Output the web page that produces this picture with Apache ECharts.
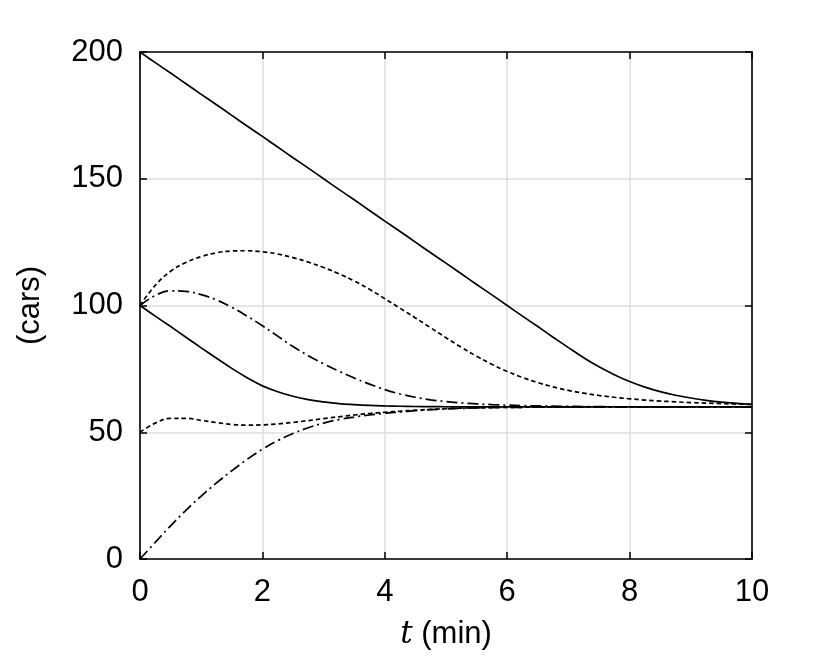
<!DOCTYPE html>
<html>
<head>
<meta charset="utf-8">
<title>cars vs t</title>
<script src="https://cdn.jsdelivr.net/npm/echarts@6/dist/echarts.min.js"></script>
<style>
  html, body { margin: 0; padding: 0; background: #fff; }
  #chart { width: 830px; height: 664px; }
</style>
</head>
<body>
<div id="chart"></div>
<script>
// time points (min), every 0.25
var tVals = [0, 0.25, 0.5, 0.75, 1, 1.25, 1.5, 1.75, 2, 2.25, 2.5, 2.75, 3, 3.25, 3.5, 3.75, 4, 4.25, 4.5, 4.75,
             5, 5.25, 5.5, 5.75, 6, 6.25, 6.5, 6.75, 7, 7.25, 7.5, 7.75, 8, 8.25, 8.5, 8.75, 9, 9.25, 9.5, 9.75, 10];

// number of cars
var solidTop   = [200, 195.8, 191.7, 187.5, 183.3, 179.2, 175, 170.8, 166.7, 162.5, 158.3, 154.2, 150, 145.8, 141.7, 137.5, 133.3, 129.2, 125, 120.8,
                  116.7, 112.5, 108.3, 104.2, 100, 95.8, 91.7, 87.5, 83.4, 79.4, 75.8, 72.7, 70, 67.8, 66, 64.6, 63.5, 62.6, 61.9, 61.4, 61];
var solidLow   = [100, 95.8, 91.7, 87.5, 83.3, 79.2, 75.2, 71.5, 68.3, 66, 64.2, 62.9, 62, 61.3, 60.9, 60.6, 60.4, 60.25, 60.15, 60.1,
                  60.05, 60, 60, 60, 60, 60, 60, 60, 60, 60, 60, 60, 60, 60, 60, 60, 60, 60, 60, 60, 60];
var dottedTop  = [100, 108, 113.5, 117, 119.3, 120.8, 121.5, 121.6, 121.2, 120.3, 118.9, 117.1, 115, 112.5, 109.7, 106.4, 102.7, 98.9, 95.1, 91.2,
                  87.3, 83.5, 80, 76.8, 74, 71.6, 69.6, 67.9, 66.5, 65.4, 64.5, 63.8, 63.2, 62.7, 62.3, 62, 61.7, 61.5, 61.3, 61.1, 61];
var dashDotTop = [100, 104, 105.8, 105.6, 104.3, 102.2, 99.3, 95.8, 92, 87.9, 83.8, 80.2, 77, 74.1, 71.4, 69, 66.8, 65.1, 63.8, 62.8,
                  62.1, 61.6, 61.2, 60.9, 60.7, 60.5, 60.4, 60.3, 60.2, 60.15, 60.1, 60.05, 60.05, 60, 60, 60, 60, 60, 60, 60, 60];
var dottedLow  = [50, 53.6, 55.5, 55.5, 54.7, 53.8, 53.1, 52.8, 52.9, 53.3, 53.9, 54.6, 55.4, 56.1, 56.8, 57.4, 57.9, 58.3, 58.7, 59,
                  59.3, 59.5, 59.6, 59.7, 59.8, 59.85, 59.9, 59.95, 60, 60, 60, 60, 60, 60, 60, 60, 60, 60, 60, 60, 60];
var dashDotLow = [0, 6.6, 13.1, 19.2, 24.8, 30, 34.8, 39.3, 43.3, 46.7, 49.5, 51.8, 53.6, 55, 56, 56.8, 57.5, 58, 58.5, 58.9,
                  59.2, 59.4, 59.6, 59.7, 59.8, 59.85, 59.9, 59.95, 60, 60, 60, 60, 60, 60, 60, 60, 60, 60, 60, 60, 60];

var xTicks = [0, 2, 4, 6, 8, 10];
var yTicks = [0, 50, 100, 150, 200];

function pairs(ys) {
    return tVals.map(function (t, i) { return [t, ys[i]]; });
}

var FONT = 'Liberation Sans';
var FS = 31;
var TICK = 7;
var dotted = [4.5, 3];
var dashDot = [11, 4, 2, 4];

function curve(name, ys, dash) {
    return {
        name: name,
        type: 'line',
        data: pairs(ys),
        smooth: 0.4,
        showSymbol: false,
        silent: true,
        animation: false,
        lineStyle: { color: '#000', width: 1.7, type: dash || 'solid' }
    };
}

// frame side: black line, no ticks
function frame(type, pos, min, max, step) {
    return {
        type: 'value', min: min, max: max, interval: step, position: pos,
        axisLine: { show: true, onZero: false, lineStyle: { color: '#000', width: 1.6 } },
        axisTick: { show: false },
        splitLine: { show: false }, axisLabel: { show: false }
    };
}
// tick-only axis pulled inside the plot by the tick length, so outward ticks end on the frame
function ticks(pos, min, max, step) {
    return {
        type: 'value', min: min, max: max, interval: step, position: pos,
        offset: -TICK,
        axisLine: { show: false, onZero: false },
        axisTick: { show: true, length: TICK, lineStyle: { color: '#000', width: 1.5 } },
        splitLine: { show: false }, axisLabel: { show: false }
    };
}

var xMain = frame('x', 'bottom', 0, 10, 2);
xMain.splitLine = { show: true, lineStyle: { color: '#dedede', width: 1.5 } };
xMain.axisLabel = { show: true, fontFamily: FONT, fontSize: FS, color: '#000', margin: 18,
    formatter: function (v) { return xTicks.indexOf(v) >= 0 ? String(v) : ''; } };
xMain.name = '{i|t} (min)';
xMain.nameLocation = 'middle';
xMain.nameGap = 60;
xMain.nameTextStyle = {
    fontFamily: FONT, fontSize: FS, color: '#000',
    rich: { i: { fontFamily: 'DejaVu Serif', fontStyle: 'italic', fontSize: FS, color: '#000' } }
};

var yMain = frame('y', 'left', 0, 200, 50);
yMain.splitLine = { show: true, lineStyle: { color: '#dedede', width: 1.5 } };
yMain.axisLabel = { show: true, fontFamily: FONT, fontSize: FS, color: '#000', margin: 17,
    formatter: function (v) { return yTicks.indexOf(v) >= 0 ? String(v) : ''; } };
yMain.name = '(cars)';
yMain.nameLocation = 'middle';
yMain.nameGap = 94;
yMain.nameTextStyle = { fontFamily: FONT, fontSize: FS, color: '#000' };

var chart = echarts.init(document.getElementById('chart'));
chart.setOption({
    backgroundColor: '#fff',
    grid: { left: 140, right: 78, top: 52, bottom: 105 },
    xAxis: [
        xMain,
        frame('x', 'top', 0, 10, 2),
        ticks('bottom', 0, 10, 2),
        ticks('top', 0, 10, 2)
    ],
    yAxis: [
        yMain,
        frame('y', 'right', 0, 200, 50),
        ticks('left', 0, 200, 50),
        ticks('right', 0, 200, 50)
    ],
    series: [
        curve('solidTop', solidTop),
        curve('solidLow', solidLow),
        curve('dottedTop', dottedTop, dotted),
        curve('dashDotTop', dashDotTop, dashDot),
        curve('dottedLow', dottedLow, dotted),
        curve('dashDotLow', dashDotLow, dashDot)
    ]
});
</script>
</body>
</html>
